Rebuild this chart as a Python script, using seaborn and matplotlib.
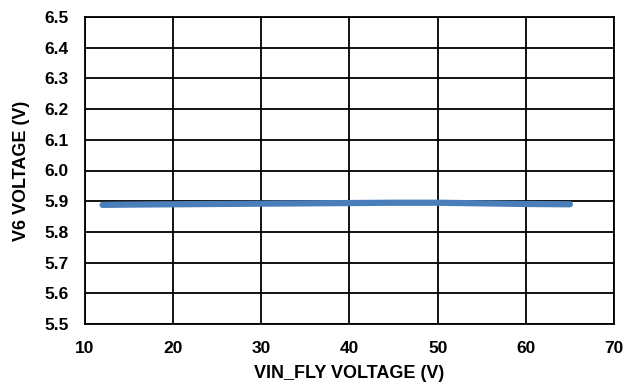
import matplotlib
matplotlib.use("Agg")
import matplotlib.pyplot as plt
import seaborn as sns
import pandas as pd

vin = [12, 15, 20, 25, 30, 35, 40, 45, 50, 55, 60, 65]
v6 = [5.888, 5.889, 5.890, 5.891, 5.892, 5.893, 5.894, 5.895, 5.895, 5.893, 5.891, 5.890]
x_ticks = [10, 20, 30, 40, 50, 60, 70]
y_ticks = [5.5, 5.6, 5.7, 5.8, 5.9, 6.0, 6.1, 6.2, 6.3, 6.4, 6.5]

sns.set_style("white", {"text.color": "black", "axes.labelcolor": "black",
                        "xtick.color": "black", "ytick.color": "black"})
plt.rcParams['font.family'] = ['Liberation Sans', 'DejaVu Sans']

fig = plt.figure(figsize=(6.26, 3.88), dpi=100)
ax = fig.add_axes([85/626, 1 - 324/388, (614-85)/626, (324-17)/388])

df = pd.DataFrame({"vin": vin, "v6": v6})
sns.lineplot(data=df, x="vin", y="v6", ax=ax, color="#4a7ebb", linewidth=4.5, zorder=3)

ax.set_xlim(10, 70)
ax.set_ylim(5.5, 6.5)
ax.set_xticks(x_ticks)
ax.set_yticks(y_ticks)
ax.set_xticklabels([str(t) for t in x_ticks], fontsize=12.5, fontweight='bold', color='black')
ax.set_yticklabels([f"{t:.1f}" for t in y_ticks], fontsize=12.5, fontweight='bold', color='black')
ax.grid(True, color='black', linewidth=1.3)
ax.set_axisbelow(True)
for s in ax.spines.values():
    s.set_visible(True)
    s.set_color('black')
    s.set_linewidth(1.3)
ax.tick_params(axis='y', length=0, pad=12)
ax.tick_params(axis='x', length=0, pad=12)
ax.set_xlabel("VIN_FLY VOLTAGE (V)", fontsize=13, fontweight='bold', labelpad=7, color='black')
ax.set_ylabel("V6 VOLTAGE (V)", fontsize=13, fontweight='bold', labelpad=10, color='black')

fig.savefig("out.png", dpi=100)
